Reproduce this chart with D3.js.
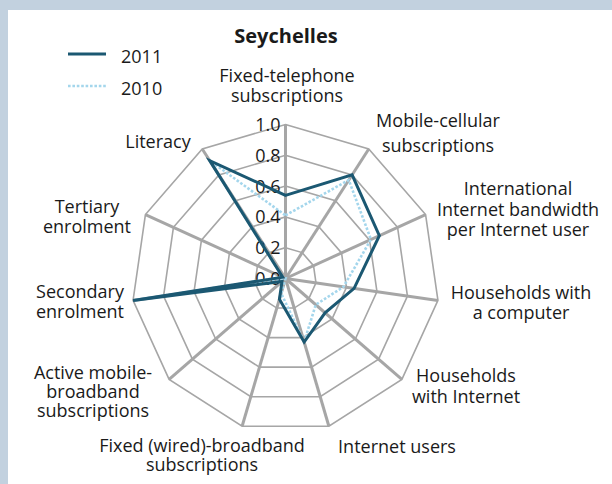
<!DOCTYPE html>
<html>
<head>
<meta charset="utf-8">
<script src="https://cdn.jsdelivr.net/npm/d3@7"></script>
<style>
  body { margin: 0; padding: 0; }
  svg text { font-family: "Open Sans", sans-serif; fill: #1a1a1a; }
</style>
</head>
<body>
<svg id="chart"></svg>
<script>
const width = 612, height = 484;

// data
const categories = [
    ["Fixed-telephone", "subscriptions"],
    ["Mobile-cellular", "subscriptions"],
    ["International", "Internet bandwidth", "per Internet user"],
    ["Households with", "a computer"],
    ["Households", "with Internet"],
    ["Internet users"],
    ["Fixed (wired)-broadband", "subscriptions"],
    ["Active mobile-", "broadband", "subscriptions"],
    ["Secondary", "enrolment"],
    ["Tertiary", "enrolment"],
    ["Literacy"]
];
const series2011 = [0.54, 0.80, 0.67, 0.45, 0.34, 0.43, 0.14, 0.03, 1.0, 0.02, 0.91];
const series2010 = [0.41, 0.76, 0.61, 0.38, 0.26, 0.43, 0.10, 0.0, 0.99, 0.02, 0.91];
const ticks = [0, 0.2, 0.4, 0.6, 0.8, 1.0];
const years = ["2011", "2010"];

// label placement: centre x, first baseline, line gap
const labelPos = [
    [287, 82, 20], [438, 127, 25], [518, 195, 20.5], [521, 299, 19.5],
    [466, 382, 21], [397, 453, 20], [202, 452, 18.5], [93, 379, 19],
    [80, 298, 20], [87, 213, 20], [158, 148, 20]
];

const darkBlue = "#1b5872";
const lightBlue = "#a4d6ec";
const gridGrey = "#a6a6a6";

const svg = d3.select("#chart")
    .attr("width", width)
    .attr("height", height);

svg.append("rect").attr("width", width).attr("height", height).attr("fill", "#c2d1df");
svg.append("rect").attr("x", 8).attr("y", 10).attr("width", width - 8).attr("height", height - 10).attr("fill", "#fff");

const cx = 285.5, cy = 278.5, R = 154;
const n = categories.length;

const r = d3.scaleLinear().domain([0, 1]).range([0, R]);
const angle = d3.scaleLinear().domain([0, n]).range([0, 2 * Math.PI]);

const g = svg.append("g").attr("transform", `translate(${cx},${cy})`);

const pt = (i, v) => [r(v) * Math.sin(angle(i)), -r(v) * Math.cos(angle(i))];

// rings
const ringLine = d3.lineRadial()
    .angle((d, i) => angle(i))
    .radius(d => r(d))
    .curve(d3.curveLinearClosed);

g.selectAll(".ring")
    .data(ticks.slice(1))
    .join("path")
    .attr("class", "ring")
    .attr("d", t => ringLine(d3.range(n).map(() => t)))
    .attr("fill", "none")
    .attr("stroke", gridGrey)
    .attr("stroke-width", 1.6);

// spokes
g.selectAll(".spoke")
    .data(d3.range(n))
    .join("line")
    .attr("class", "spoke")
    .attr("x1", 0).attr("y1", 0)
    .attr("x2", i => pt(i, 1)[0])
    .attr("y2", i => pt(i, 1)[1])
    .attr("stroke", gridGrey)
    .attr("stroke-width", 3);

// tick labels
g.selectAll(".tick")
    .data(ticks)
    .join("text")
    .attr("class", "tick")
    .attr("x", -5)
    .attr("y", t => -r(t))
    .attr("dy", "0.36em")
    .attr("text-anchor", "end")
    .attr("font-size", 18)
    .text(t => d3.format(".1f")(t));

// series
const seriesLine = d3.lineRadial()
    .angle((d, i) => angle(i))
    .radius(d => r(d))
    .curve(d3.curveLinearClosed);

g.append("path")
    .attr("d", seriesLine(series2010))
    .attr("fill", "none")
    .attr("stroke", lightBlue)
    .attr("stroke-width", 2.6)
    .attr("stroke-dasharray", "2.6,1.8");

g.append("path")
    .attr("d", seriesLine(series2011))
    .attr("fill", "none")
    .attr("stroke", darkBlue)
    .attr("stroke-width", 3)
    .attr("stroke-linejoin", "miter");

// category labels
categories.forEach((lines, i) => {
    const [x, y, gap] = labelPos[i];
    const t = svg.append("text")
        .attr("text-anchor", "middle")
        .attr("font-size", 18);
    lines.forEach((s, k) => {
        t.append("tspan").attr("x", x).attr("y", y + k * gap).text(s);
    });
});

// title
svg.append("text")
    .attr("x", 286)
    .attr("y", 43)
    .attr("text-anchor", "middle")
    .attr("font-size", 20)
    .attr("font-weight", "bold")
    .text("Seychelles");

// legend
const legend = svg.append("g").attr("transform", "translate(68,54)");
years.forEach((yr, k) => {
    const row = legend.append("g").attr("transform", `translate(0,${k * 32})`);
    row.append("line")
        .attr("x1", 0).attr("x2", 38)
        .attr("stroke", k === 0 ? darkBlue : lightBlue)
        .attr("stroke-width", k === 0 ? 3 : 2.6)
        .attr("stroke-dasharray", k === 0 ? null : "2.6,1.8");
    row.append("text")
        .attr("x", 53)
        .attr("y", 8.5)
        .attr("font-size", 18)
        .text(yr);
});
</script>
</body>
</html>
